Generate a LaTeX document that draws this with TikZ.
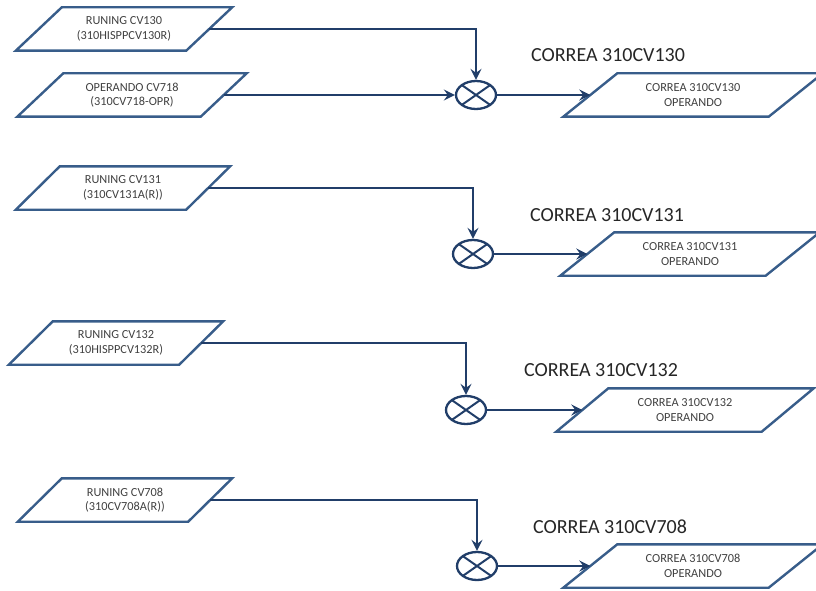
\documentclass[tikz,border=0pt]{standalone}
\usepackage{fontspec}
\setmainfont{Carlito}
\usetikzlibrary{arrows.meta,shapes.geometric}
\definecolor{boxblue}{RGB}{56,93,138}
\definecolor{flowblue}{RGB}{33,62,105}
\definecolor{txtgray}{RGB}{64,64,64}
\begin{document}
\begin{tikzpicture}[x=1pt,y=-1pt,
  datatext/.style={rectangle, draw=none, inner sep=0pt, align=center,
    font=\fontsize{12.3}{14.5}\selectfont, text=txtgray, minimum height=43pt},
  inbox/.style={datatext, minimum width=170pt},
  outbox/.style={datatext, minimum width=205pt},
  outline/.style={draw=boxblue, line width=2.4pt, line join=miter},
  junction/.style={ellipse, draw=flowblue, line width=2.3pt, fill=white,
    minimum width=40pt, minimum height=28pt, inner sep=0pt,
    path picture={\draw[flowblue, line width=2pt]
      (path picture bounding box.north west) -- (path picture bounding box.south east)
      (path picture bounding box.north east) -- (path picture bounding box.south west);}},
  flow/.style={draw=flowblue, line width=2.3pt,
    -{Stealth[length=11pt,width=11pt,inset=4pt]}},
  title/.style={font=\fontsize{20}{24}\selectfont, text=black!85}
]
\useasboundingbox (0,0) rectangle (816,591);

% input data blocks
\node[inbox] (in1) at (124,29)  {RUNING CV130\\(310HISPPCV130R)};
\node[inbox, minimum width=183pt] (in2) at (132,95) {OPERANDO CV718\\(310CV718-OPR)};
\node[inbox] (in3) at (123,188) {RUNING CV131\\(310CV131A(R))};
\node[inbox] (in4) at (116,343) {RUNING CV132\\(310HISPPCV132R)};
\node[inbox] (in5) at (125,500) {RUNING CV708\\(310CV708A(R))};

% output data blocks
\node[outbox] (out1) at (693,95)  {CORREA 310CV130\\OPERANDO};
\node[outbox] (out2) at (690,254) {CORREA 310CV131\\OPERANDO};
\node[outbox] (out3) at (685,410) {CORREA 310CV132\\OPERANDO};
\node[outbox] (out4) at (693,566) {CORREA 310CV708\\OPERANDO};

% slanted outlines around the data blocks (name / half skew)
\foreach \n/\s in {in1/23, in2/23, in3/22, in4/22, in5/22,
                   out1/27, out2/27, out3/26, out4/27}{
  \draw[outline] ([xshift=\s pt]\n.north west) -- ([xshift=\s pt]\n.north east)
    -- ([xshift=-\s pt]\n.south east) -- ([xshift=-\s pt]\n.south west) -- cycle;
}

% summing junctions
\node[junction] (c1) at (476,95)  {};
\node[junction] (c2) at (473,254) {};
\node[junction] (c3) at (466,410) {};
\node[junction] (c4) at (477,566) {};

% block titles
\node[title] (t1) at (608,55)  {CORREA 310CV130};
\node[title] (t2) at (607,215) {CORREA 310CV131};
\node[title] (t3) at (601,370) {CORREA 310CV132};
\node[title] (t4) at (610,527) {CORREA 310CV708};

% signal flow
\draw[flow] (in1.east) -| (c1.north);
\draw[flow] (in2.east) -- (c1.west);
\draw[flow] (c1.east) -- (out1.west);

\draw[flow] (in3.east) -| (c2.north);
\draw[flow] (c2.east) -- (out2.west);

\draw[flow] (in4.east) -| (c3.north);
\draw[flow] (c3.east) -- (out3.west);

\draw[flow] (in5.east) -| (c4.north);
\draw[flow] (c4.east) -- (out4.west);
\end{tikzpicture}
\end{document}
